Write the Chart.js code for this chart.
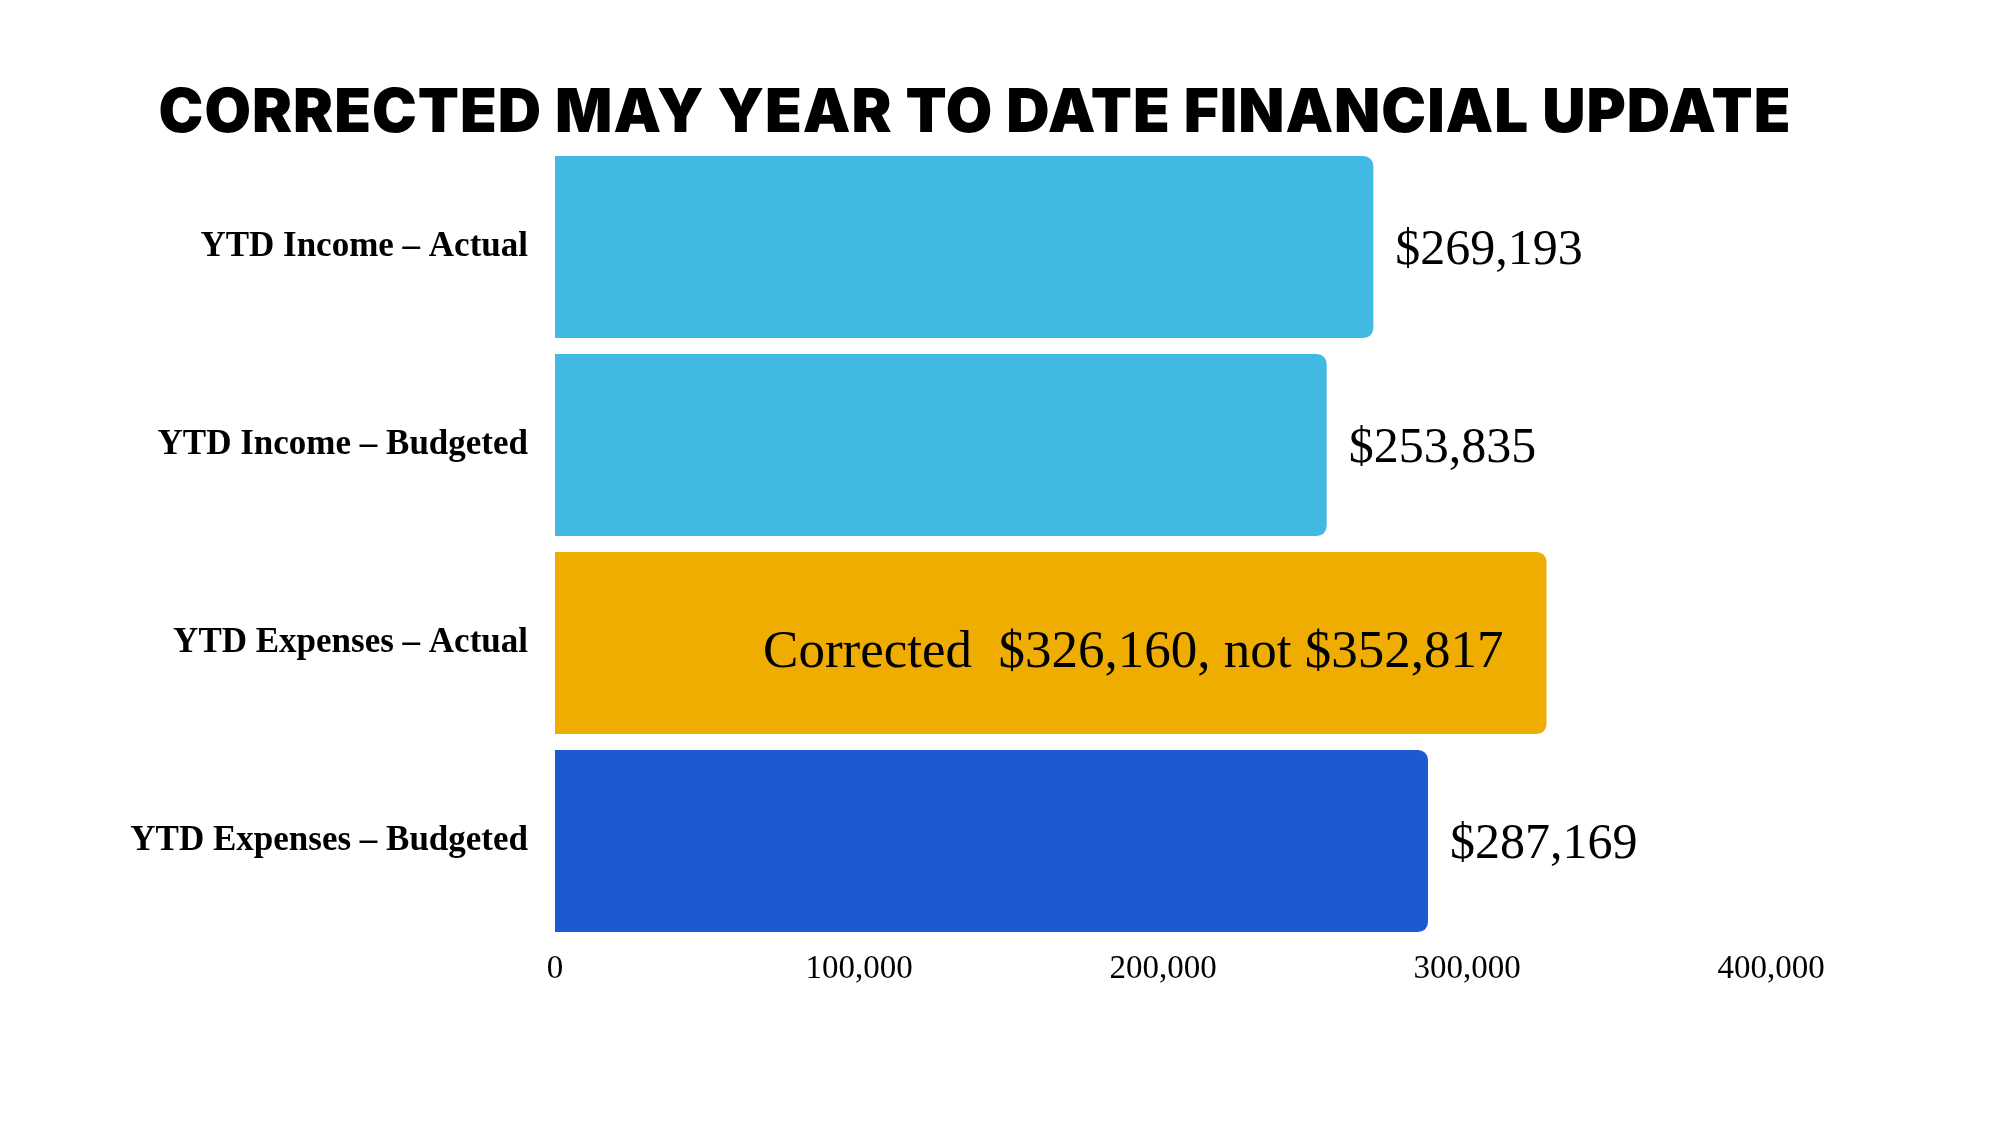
<!DOCTYPE html>
<html>
<head>
<meta charset="utf-8">
<script src="https://cdn.jsdelivr.net/npm/chart.js@4.4.0/dist/chart.umd.min.js"></script>
<style>
  html, body { margin: 0; padding: 0; background: #ffffff; }
  #wrap { width: 2000px; height: 1125px; position: relative; }
</style>
</head>
<body>
<div id="wrap"><canvas id="finChart"></canvas></div>
<script>
// Chart data
const chartTitle = "CORRECTED MAY YEAR TO DATE FINANCIAL UPDATE";
const categories = ["YTD Income – Actual", "YTD Income – Budgeted", "YTD Expenses – Actual", "YTD Expenses – Budgeted"];
const amounts = [269193, 253835, 326160, 287169];
const valueLabels = ["$269,193", "$253,835", "", "$287,169"];
const noteLabels = ["", "", "Corrected  $326,160, not $352,817", ""];
const xTicks = [0, 100000, 200000, 300000, 400000];
const barColors = ["#41B9E3", "#41B9E3", "#EEAD00", "#1D59D3"];

// Draws the title and the labels next to / inside the bars
const labelPlugin = {
  id: "barLabels",
  afterDatasetsDraw(chart) {
    const ctx = chart.ctx;
    const meta = chart.getDatasetMeta(0);
    ctx.save();
    ctx.fillStyle = "#000";
    ctx.textBaseline = "middle";
    meta.data.forEach((bar, i) => {
      if (valueLabels[i]) {
        ctx.font = "50px 'Liberation Serif'";
        ctx.textAlign = "left";
        ctx.fillText(valueLabels[i], bar.x + 22, bar.y + 4);
      }
      if (noteLabels[i]) {
        ctx.font = "53px 'Liberation Serif'";
        ctx.textAlign = "right";
        ctx.fillText(noteLabels[i], bar.x - 43, bar.y + 10);
      }
    });
    // title
    ctx.font = "900 60px Inter";
    ctx.textAlign = "center";
    ctx.letterSpacing = "1px";
    ctx.fillText(chartTitle, 975, 114);
    ctx.restore();
  }
};

const ctx = document.getElementById("finChart").getContext("2d");
new Chart(ctx, {
  type: "bar",
  data: {
    labels: categories,
    datasets: [{
      data: amounts,
      backgroundColor: barColors,
      borderRadius: 10,
      borderSkipped: "start",
      barPercentage: 1,
      categoryPercentage: 0.92
    }]
  },
  options: {
    indexAxis: "y",
    responsive: true,
    maintainAspectRatio: false,
    animation: false,
    layout: { padding: { top: 148, right: 229, left: 0, bottom: 0 } },
    plugins: {
      legend: { display: false },
      title: { display: false },
      tooltip: { enabled: false }
    },
    scales: {
      x: {
        min: 0,
        max: 400000,
        afterBuildTicks: s => { s.ticks = xTicks.map(v => ({ value: v })); },
        afterFit: s => { s.height = 185; },
        grid: { display: false, drawTicks: false },
        border: { display: false },
        ticks: {
          padding: 10,
          color: "#000",
          font: { family: "'Liberation Serif'", size: 33 },
          callback: v => v.toLocaleString("en-US")
        }
      },
      y: {
        afterFit: s => { s.width = 555; },
        grid: { display: false, drawTicks: false },
        border: { display: false },
        ticks: {
          padding: 27,
          color: "#000",
          font: { family: "'Liberation Serif'", size: 35, weight: "bold" }
        }
      }
    }
  },
  plugins: [labelPlugin]
});
</script>
</body>
</html>
